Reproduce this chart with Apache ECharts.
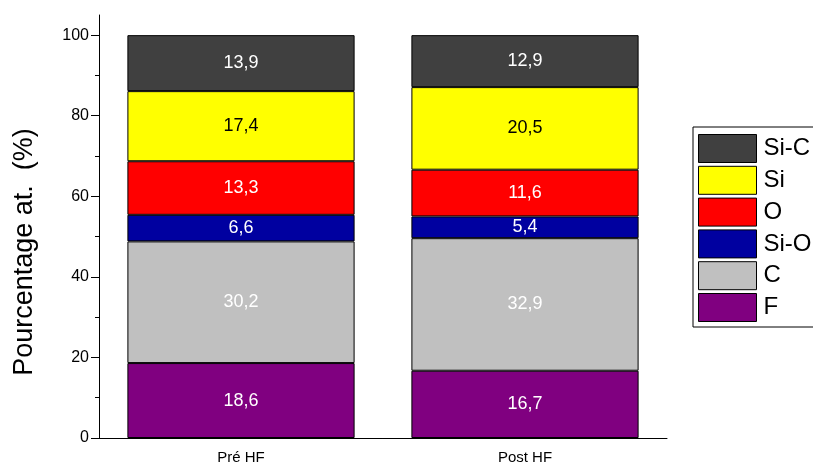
<!DOCTYPE html>
<html>
<head>
<meta charset="utf-8">
<script src="https://cdn.jsdelivr.net/npm/echarts@6/dist/echarts.min.js"></script>
<style>html,body{margin:0;padding:0;background:#fff}#c{width:813px;height:469px}</style>
</head>
<body>
<div id="c"></div>
<script>
const categories = ['Pré HF', 'Post HF'];
const F = [18.6, 16.7];
const C = [30.2, 32.9];
const SiO = [6.6, 5.4];
const O = [13.3, 11.6];
const Si = [17.4, 20.5];
const SiC = [13.9, 12.9];
const yTicks = [0, 20, 40, 60, 80, 100];
const yMinorTicks = [10, 30, 50, 70, 90];

const font = '"Liberation Sans", Arial, sans-serif';
function mk(name, data, color, labelColor) {
  return {
    name: name, type: 'bar', stack: 'total', data: data, barWidth: '80%',
    itemStyle: { color: color, borderColor: '#000', borderWidth: 1 },
    label: {
      show: true, position: 'inside', color: labelColor, fontSize: 18, fontFamily: font,
      formatter: p => String(p.value).replace('.', ',')
    },
    emphasis: { disabled: true }
  };
}
const chart = echarts.init(document.getElementById('c'));
chart.setOption({
  animation: false,
  backgroundColor: '#fff',
  grid: { left: 99, right: 146, top: 15, bottom: 31 },
  xAxis: [
    { type: 'category', data: categories, boundaryGap: true,
      axisLine: { lineStyle: { color: '#000', width: 1 } },
      axisTick: { length: 5, lineStyle: { color: '#000' } },
      axisLabel: { show: false } },
    { type: 'category', data: categories, position: 'bottom', boundaryGap: true,
      axisLine: { show: false },
      axisTick: { alignWithLabel: true, length: 8, lineStyle: { color: '#000' } },
      axisLabel: { color: '#000', fontSize: 15, fontFamily: font, margin: 12 } }
  ],
  yAxis: [
    { type: 'value', min: 0, max: 105, interval: 20,
      axisLine: { show: true, lineStyle: { color: '#000', width: 1 } },
      axisTick: { show: true, length: 8, customValues: yTicks, lineStyle: { color: '#000' } },
      axisLabel: { color: '#000', fontSize: 16, fontFamily: font, margin: 10, customValues: yTicks },
      splitLine: { show: false } },
    { type: 'value', min: 0, max: 105, position: 'left',
      axisLine: { show: false },
      axisTick: { show: true, length: 4, customValues: yMinorTicks, lineStyle: { color: '#000' } },
      axisLabel: { show: false },
      splitLine: { show: false } }
  ],
  legend: {
    orient: 'vertical', left: 693, top: 127,
    padding: [7, 30, 5, 5],
    borderColor: '#000', borderWidth: 1,
    itemWidth: 58, itemHeight: 28, itemGap: 2.8, icon: 'rect',
    itemStyle: { borderColor: '#000', borderWidth: 1 },
    textStyle: { color: '#000', fontSize: 24, fontFamily: font, padding: [0, 0, 0, 2] },
    data: ['Si-C', 'Si', 'O', 'Si-O', 'C', 'F']
  },
  graphic: [{
    type: 'text', x: 25, y: 252, rotation: Math.PI / 2,
    style: { text: 'Pourcentage at.  (%)', fontSize: 27, fontFamily: font, fill: '#000',
      textAlign: 'center', textVerticalAlign: 'middle' }
  }],
  series: [
    mk('F', F, '#800080', '#fff'),
    mk('C', C, '#C0C0C0', '#fff'),
    mk('Si-O', SiO, '#0000A0', '#fff'),
    mk('O', O, '#FF0000', '#fff'),
    mk('Si', Si, '#FFFF00', '#000'),
    mk('Si-C', SiC, '#404040', '#fff')
  ]
});
</script>
</body>
</html>
